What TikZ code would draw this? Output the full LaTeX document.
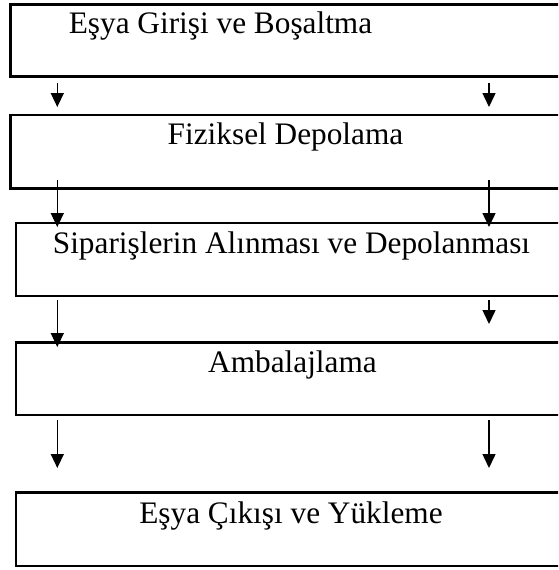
\documentclass[tikz,border=0pt]{standalone}
\usepackage{fontspec}
\setmainfont{Liberation Serif}
\usetikzlibrary{arrows.meta}
\begin{document}
\begin{tikzpicture}[x=1pt,y=-1pt,
  stagebox/.style={draw, line width=2.5pt, rectangle, outer sep=0pt, inner sep=0pt,
    anchor=north west, minimum width=600pt},
  lbl/.style={anchor=base, inner sep=0pt, font=\fontsize{31.3}{37}\selectfont},
  flow/.style={line width=1.5pt, -{Triangle[width=13pt,length=14pt]}}]
  \useasboundingbox (0,0) rectangle (558,570);
  \clip (0,0) rectangle (558,570);
  \fill[white] (0,0) rectangle (558,570);

  % process stages (right edges run off the page)
  \node[stagebox, minimum height=72pt]   (b1) at (10.5,4.5)   {};
  \node[stagebox, minimum height=73.5pt] (b2) at (10.5,115)   {};
  \node[stagebox, minimum height=73pt]   (b3) at (16.2,223)   {};
  \node[stagebox, minimum height=72.3pt] (b4) at (16.2,342.7) {};
  \node[stagebox, minimum height=73.3pt] (b5) at (16.2,492.7) {};

  % stage titles
  \node[lbl] (t1) at (220.5,33)  {Eşya Girişi ve Boşaltma};
  \node[lbl] (t2) at (285.5,144) {Fiziksel Depolama};
  \node[lbl] (t3) at (291.5,253) {Siparişlerin Alınması ve Depolanması};
  \node[lbl] (t4) at (292.5,372) {Ambalajlama};
  \node[lbl] (t5) at (291,523)   {Eşya Çıkışı ve Yükleme};

  % arrow end points
  \coordinate (a1ls) at (57.3,83);  \coordinate (a1le) at (57.3,107);
  \coordinate (a1rs) at (489,83);   \coordinate (a1re) at (489,107);
  \coordinate (a2ls) at (57.3,180); \coordinate (a2le) at (57.3,227);
  \coordinate (a2rs) at (489,180);  \coordinate (a2re) at (489,227);
  \coordinate (a3ls) at (57.3,300); \coordinate (a3le) at (57.3,347);
  \coordinate (a3rs) at (489,300);  \coordinate (a3re) at (489,324);
  \coordinate (a4ls) at (57.3,420); \coordinate (a4le) at (57.3,468);
  \coordinate (a4rs) at (489,420);  \coordinate (a4re) at (489,468);

  % flow arrows
  \foreach \i in {1,2,3,4}{
    \draw[flow] (a\i ls) -- (a\i le);
    \draw[flow] (a\i rs) -- (a\i re);
  }
\end{tikzpicture}
\end{document}
